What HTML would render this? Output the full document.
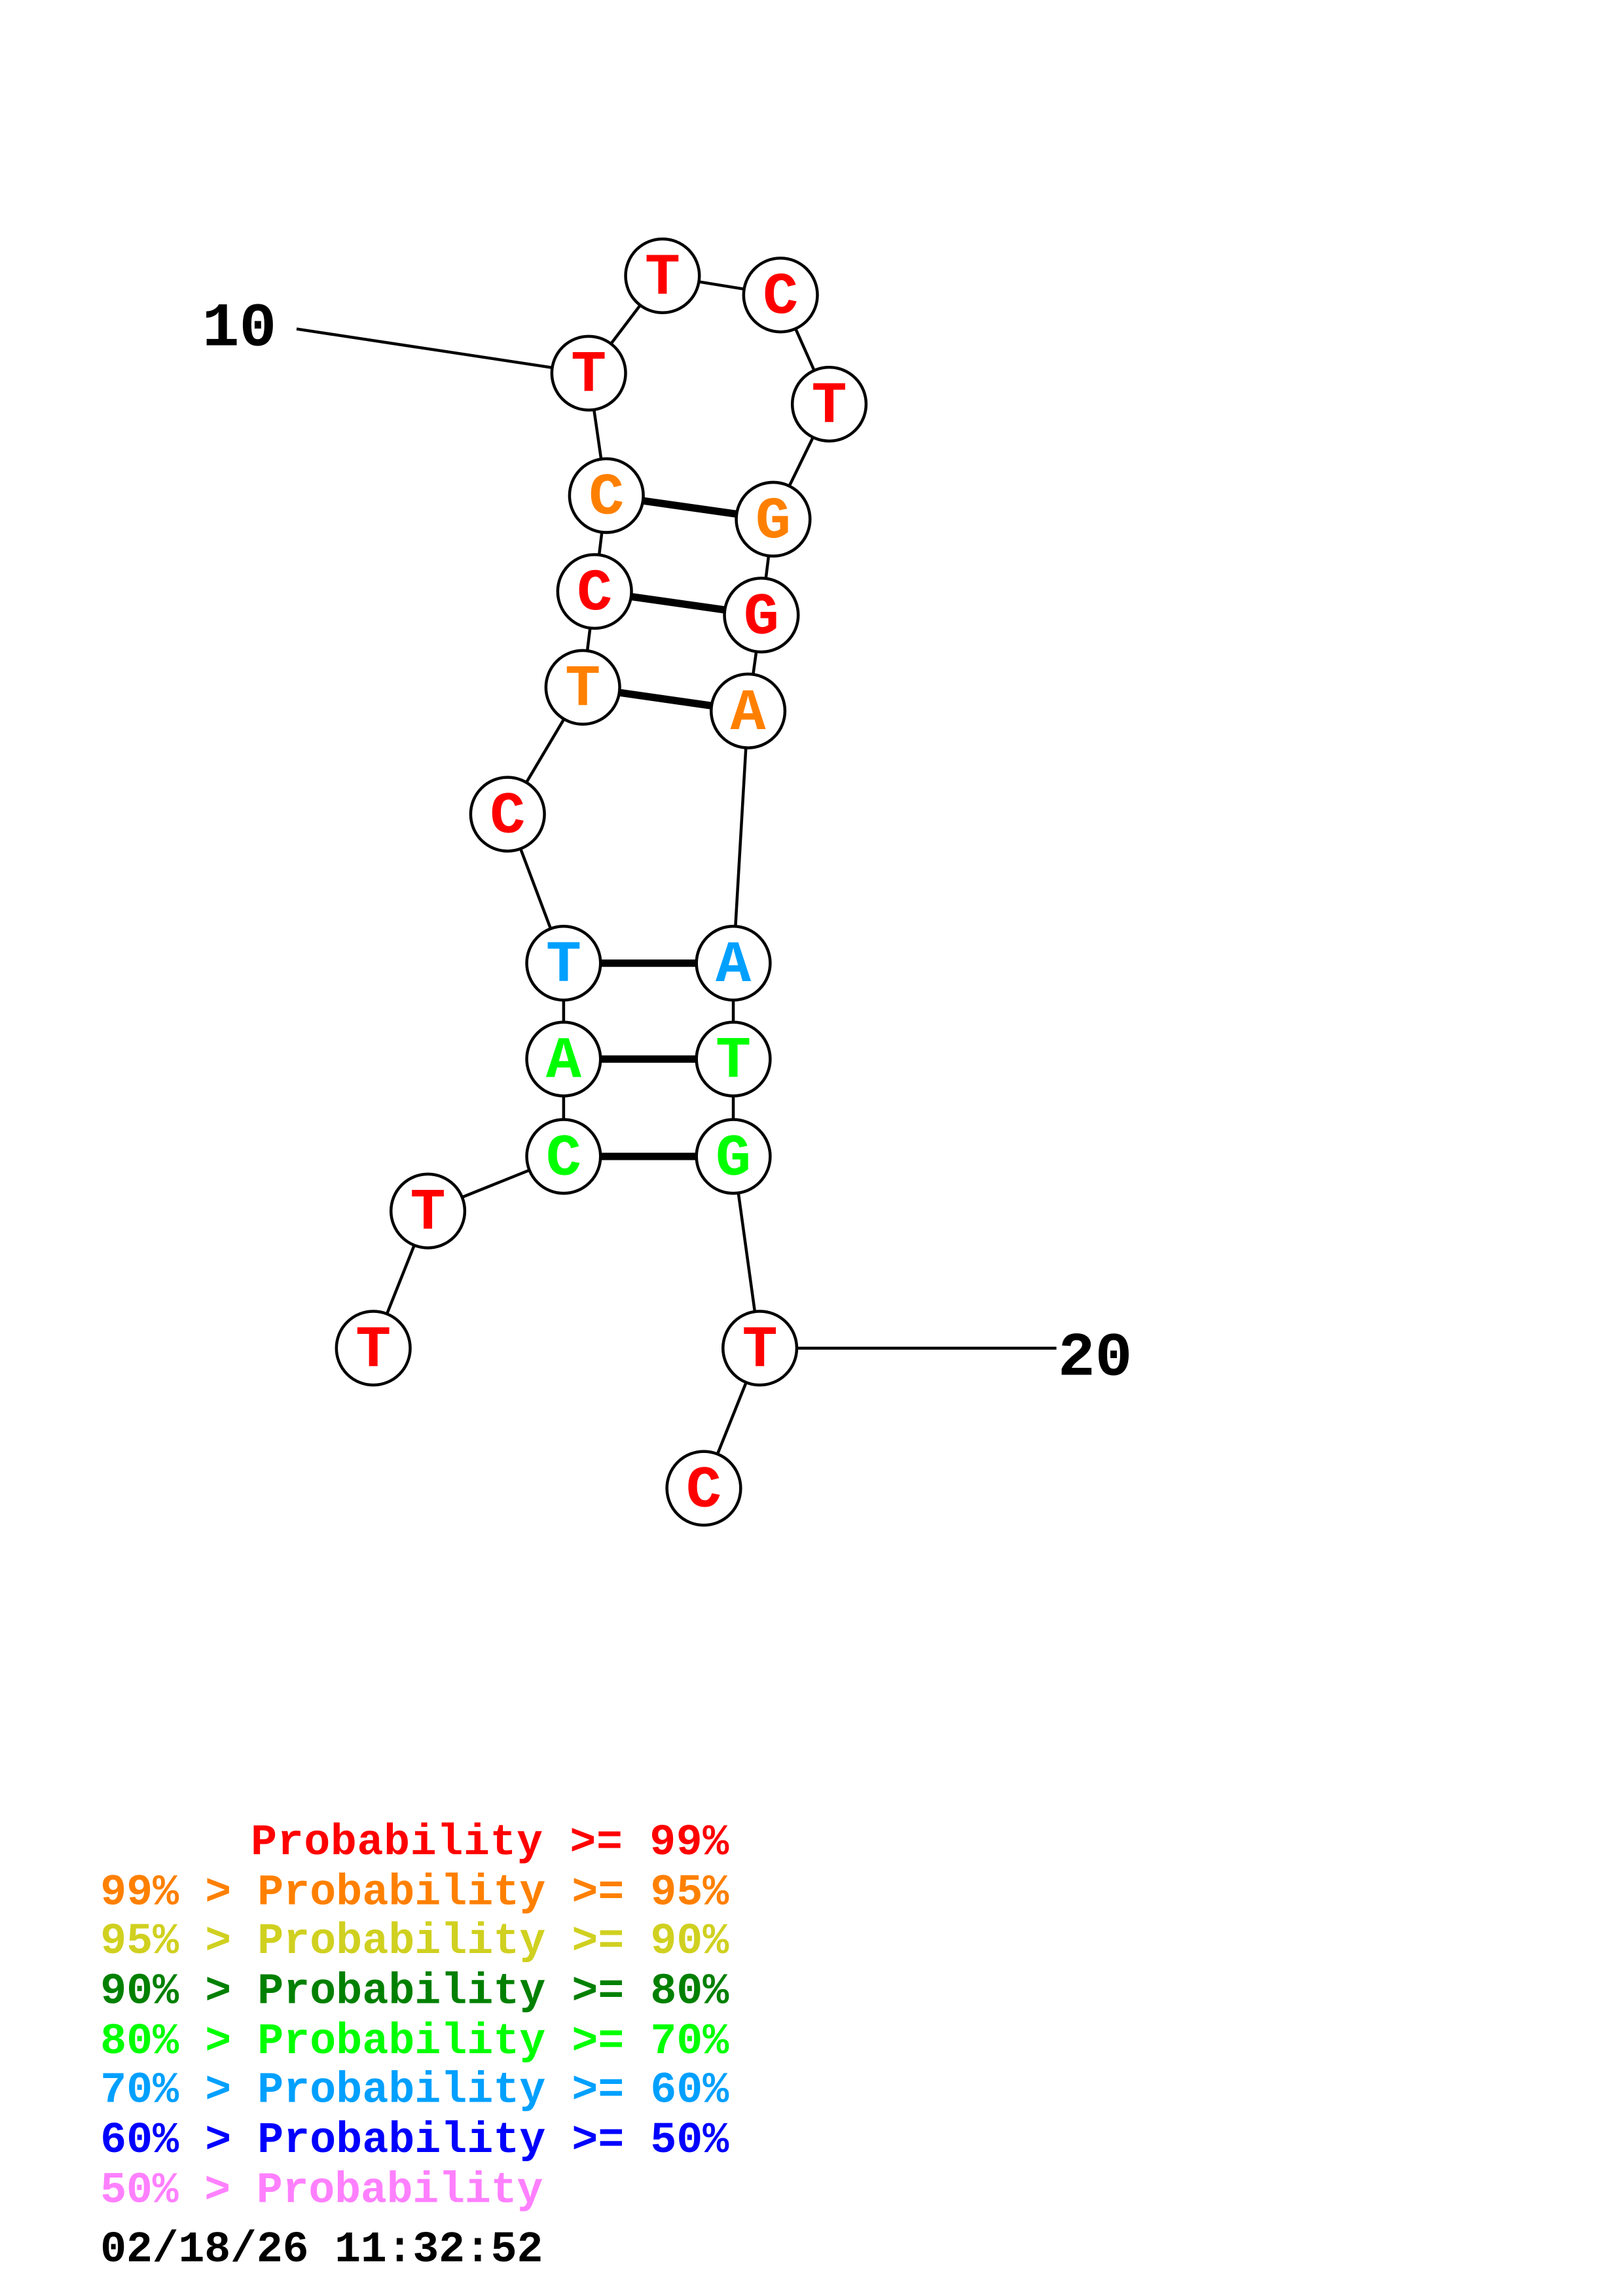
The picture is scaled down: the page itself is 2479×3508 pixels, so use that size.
<!DOCTYPE html>
<html><head><meta charset="utf-8"><style>html,body{margin:0;padding:0;background:#fff}svg{display:block}</style></head>
<body>
<svg width="2479" height="3508" viewBox="0 0 1100 1556.6" xmlns="http://www.w3.org/2000/svg" font-family="Liberation Mono, monospace" font-weight="bold">
<rect width="1100" height="1556.6" fill="#fff"/>
<g stroke="#000" stroke-width="2" fill="none">
<polyline points="253,914 290,821 382,784 382,718 382,653 344,552 395,466 403,401 411,336 399,253 449,187 529,200 562,274 524,352 516,417 507,482 497,653 497,718 497,784 515,914 477,1009"/>
<line x1="201" y1="223" x2="399" y2="253"/>
<line x1="515" y1="914" x2="716" y2="914"/>
</g>
<g stroke="#000" stroke-width="5">
<line x1="411" y1="336" x2="524" y2="352"/>
<line x1="403" y1="401" x2="516" y2="417"/>
<line x1="395" y1="466" x2="507" y2="482"/>
<line x1="382" y1="653" x2="497" y2="653"/>
<line x1="382" y1="718" x2="497" y2="718"/>
<line x1="382" y1="784" x2="497" y2="784"/>
</g>
<g stroke="#000" stroke-width="2" fill="#fff">
<circle cx="449" cy="187" r="25"/><circle cx="529" cy="200" r="25"/><circle cx="562" cy="274" r="25"/>
<circle cx="524" cy="352" r="25"/><circle cx="516" cy="417" r="25"/><circle cx="507" cy="482" r="25"/>
<circle cx="497" cy="653" r="25"/><circle cx="497" cy="718" r="25"/><circle cx="497" cy="784" r="25"/>
<circle cx="515" cy="914" r="25"/><circle cx="477" cy="1009" r="25"/>
<circle cx="399" cy="253" r="25"/><circle cx="411" cy="336" r="25"/><circle cx="403" cy="401" r="25"/>
<circle cx="395" cy="466" r="25"/><circle cx="344" cy="552" r="25"/><circle cx="382" cy="653" r="25"/>
<circle cx="382" cy="718" r="25"/><circle cx="382" cy="784" r="25"/><circle cx="290" cy="821" r="25"/>
<circle cx="253" cy="914" r="25"/>
</g>
<g font-size="40" text-anchor="middle" dominant-baseline="central">
<text x="449" y="189" fill="#f00">T</text><text x="529" y="202" fill="#f00">C</text><text x="562" y="276" fill="#f00">T</text>
<text x="524" y="354" fill="#ff8000">G</text><text x="516" y="419" fill="#f00">G</text><text x="507" y="484" fill="#ff8000">A</text>
<text x="497" y="655" fill="#00a0ff">A</text><text x="497" y="720" fill="#0f0">T</text><text x="497" y="786" fill="#0f0">G</text>
<text x="515" y="916" fill="#f00">T</text><text x="477" y="1011" fill="#f00">C</text>
<text x="399" y="255" fill="#f00">T</text><text x="411" y="338" fill="#ff8000">C</text><text x="403" y="403" fill="#f00">C</text>
<text x="395" y="468" fill="#ff8000">T</text><text x="344" y="554" fill="#f00">C</text><text x="382" y="655" fill="#00a0ff">T</text>
<text x="382" y="720" fill="#0f0">A</text><text x="382" y="786" fill="#0f0">C</text><text x="290" y="823" fill="#f00">T</text>
<text x="253" y="916" fill="#f00">T</text>
</g>
<g font-size="42" fill="#000">
<text x="137" y="234">10</text>
<text x="717" y="932">20</text>
</g>
<g font-size="29.5">
<text x="170" y="1257" fill="#f00" textLength="324">Probability &gt;= 99%</text>
<text x="68" y="1291" fill="#ff8000" textLength="426">99% &gt; Probability &gt;= 95%</text>
<text x="68" y="1324" fill="#d0d020" textLength="426">95% &gt; Probability &gt;= 90%</text>
<text x="68" y="1358" fill="#008000" textLength="426">90% &gt; Probability &gt;= 80%</text>
<text x="68" y="1392" fill="#0f0" textLength="426">80% &gt; Probability &gt;= 70%</text>
<text x="68" y="1425" fill="#00a0ff" textLength="426">70% &gt; Probability &gt;= 60%</text>
<text x="68" y="1459" fill="#00f" textLength="426">60% &gt; Probability &gt;= 50%</text>
<text x="68" y="1493" fill="#ff80ff" textLength="300">50% &gt; Probability</text>
<text x="68" y="1533" fill="#000" textLength="300">02/18/26 11:32:52</text>
</g>
</svg>
</body></html>
